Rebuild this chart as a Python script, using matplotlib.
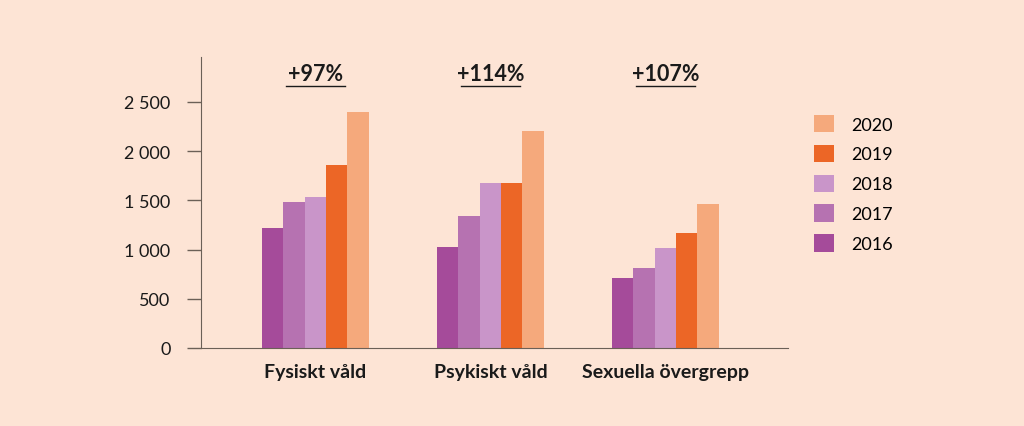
import numpy as np
import matplotlib.pyplot as plt
import matplotlib.transforms as mtrans
from matplotlib.patches import Patch

plt.rcParams['font.family'] = ['Lato', 'DejaVu Sans']

categories = ["Fysiskt våld", "Psykiskt våld", "Sexuella övergrepp"]
years = ["2016", "2017", "2018", "2019", "2020"]
values = {
    "2016": [1215, 1030, 711],
    "2017": [1480, 1338, 810],
    "2018": [1530, 1674, 1013],
    "2019": [1860, 1674, 1166],
    "2020": [2395, 2208, 1463],
}
changes = ["+97%", "+114%", "+107%"]
yticks = [0, 500, 1000, 1500, 2000, 2500]
ytick_labels = ["0", "500", "1 000", "1 500", "2 000", "2 500"]

colors = {
    "2016": "#a54b9a",
    "2017": "#b672b1",
    "2018": "#c995c9",
    "2019": "#ec6626",
    "2020": "#f5a97c",
}
bg = "#fde4d5"

fig = plt.figure(figsize=(10.24, 4.27), dpi=100, facecolor=bg)
ax = fig.add_axes([0.1963, 0.1827, 0.5732, 0.6815], facecolor=bg)

x = np.arange(len(categories))
w = 0.122
for i, yr in enumerate(years):
    ax.bar(x + (i - 2) * w, values[yr], width=w, color=colors[yr], linewidth=0)

ax.set_xlim(-0.654, 2.7)
ax.set_ylim(0, 2957)
ax.set_yticks(yticks)
ax.set_yticklabels(ytick_labels, fontsize=13, color="#1a1a1a")
ax.tick_params(axis="y", length=10, width=1, color="#6b6057", pad=12)
ax.set_xticks(x)
ax.set_xticklabels(categories, fontsize=14, fontweight="bold", color="#1a1a1a")
ax.tick_params(axis="x", length=0, pad=11)
for s in ["top", "right"]:
    ax.spines[s].set_visible(False)
ax.spines["left"].set_color("#6b6057")
ax.spines["bottom"].set_color("#6b6057")

# percent change labels with underline
trans = mtrans.blended_transform_factory(ax.transData, ax.transAxes)
for xi, txt in zip(x, changes):
    ax.text(xi, 0.942, txt, transform=trans, ha="center", va="center",
            fontsize=15.5, fontweight="bold", color="#1a1a1a")
    ax.plot([xi - 0.168, xi + 0.168], [0.90, 0.90], transform=trans,
            color="#1a1a1a", linewidth=1, clip_on=False)

handles = [Patch(facecolor=colors[yr], edgecolor="none", label=yr) for yr in years[::-1]]
fig.legend(handles=handles, loc="upper left", bbox_to_anchor=(0.786, 0.75),
           frameon=False, fontsize=13, handlelength=1.1, handleheight=1.1,
           labelspacing=0.67, handletextpad=0.95, borderpad=0)

plt.savefig("out.png", dpi=100, facecolor=bg)
